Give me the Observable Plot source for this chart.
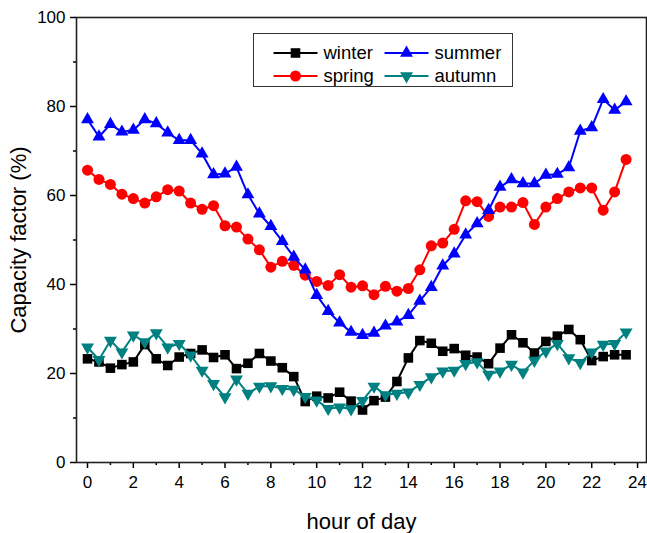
<!DOCTYPE html>
<html>
<head>
<meta charset="utf-8">
<script src="https://cdn.jsdelivr.net/npm/d3@7"></script>
<script src="https://cdn.jsdelivr.net/npm/@observablehq/plot@0.6"></script>
<style>
  body { margin: 0; background: #fff; }
  #chart svg { display: block; }
</style>
</head>
<body>
<div id="chart"></div>
<script>
// Half-hourly capacity factor (%) for each season
const hours = [0, 0.5, 1, 1.5, 2, 2.5, 3, 3.5, 4, 4.5, 5, 5.5, 6, 6.5, 7, 7.5,
  8, 8.5, 9, 9.5, 10, 10.5, 11, 11.5, 12, 12.5, 13, 13.5, 14, 14.5, 15, 15.5,
  16, 16.5, 17, 17.5, 18, 18.5, 19, 19.5, 20, 20.5, 21, 21.5, 22, 22.5, 23, 23.5];

const winter = [23.3, 22.6, 21.2, 22.0, 22.6, 26.5, 23.3, 21.8, 23.7, 24.5, 25.3, 23.6, 24.2, 21.1, 22.3, 24.5,
  22.8, 21.3, 19.3, 13.7, 14.9, 14.5, 15.8, 13.8, 11.8, 13.9, 14.7, 18.2, 23.5, 27.4, 26.8, 25.0,
  25.6, 24.1, 23.7, 22.2, 25.7, 28.7, 26.9, 24.6, 27.2, 28.4, 29.9, 27.6, 22.9, 23.8, 24.2, 24.2];

const spring = [65.7, 63.6, 62.5, 60.3, 59.3, 58.3, 59.7, 61.3, 61.0, 58.3, 56.9, 57.7,
  53.2, 52.9, 50.2, 47.8, 43.9, 45.2, 44.3, 42.1, 40.7, 39.8, 42.2, 39.4,
  39.7, 37.7, 39.6, 38.5, 39.1, 43.3, 48.7, 49.3, 52.4, 58.8, 58.6, 55.3,
  57.4, 57.4, 58.4, 53.5, 57.4, 59.3, 60.8, 61.7, 61.7, 56.7, 60.8, 68.1];

const summer = [77.1, 73.2, 76.0, 74.3, 74.7, 77.1, 76.2, 74.1, 72.4, 72.4, 69.4, 64.7,
  64.9, 66.4, 60.2, 55.9, 53.1, 49.7, 46.2, 43.3, 37.6, 34.0, 31.4, 29.3,
  28.6, 29.1, 30.7, 31.6, 33.1, 36.3, 39.4, 44.2, 46.9, 51.2, 53.7, 56.7,
  61.9, 63.6, 62.7, 62.7, 64.6, 64.8, 66.3, 74.5, 75.3, 81.6, 79.2, 81.1];

const autumn = [25.9, 23.1, 27.4, 24.8, 28.6, 27.1, 29.1, 25.9, 26.7, 24.1, 20.7, 17.7, 14.7, 18.7, 15.5, 17.1,
  17.2, 16.6, 16.4, 14.8, 14.0, 12.1, 12.4, 12.0, 13.9, 17.1, 15.2, 15.5, 15.8, 17.5, 19.2, 20.5,
  20.7, 22.2, 22.6, 19.8, 20.5, 22.0, 20.3, 22.9, 25.0, 26.7, 23.5, 22.4, 24.8, 26.5, 26.7, 29.3];

const seasonNames = ["winter", "spring", "summer", "autumn"];
const xTicks = [0, 2, 4, 6, 8, 10, 12, 14, 16, 18, 20, 22, 24];
const xMinorTicks = [1, 3, 5, 7, 9, 11, 13, 15, 17, 19, 21, 23];
const yTicks = [0, 20, 40, 60, 80, 100];
const yMinorTicks = [10, 30, 50, 70, 90];

// Series styling: colour, marker symbol, marker radius, marker rotation
const styles = {
  winter: {color: "#000000", symbol: "square", r: 5.4, rotate: 0},
  spring: {color: "#ff0000", symbol: "circle", r: 5.5, rotate: 0},
  summer: {color: "#0000ff", symbol: "triangle", r: 4.8, rotate: 0},
  autumn: {color: "#008080", symbol: "triangle", r: 4.8, rotate: 180}
};
const values = {winter, spring, summer, autumn};

const font = "'Liberation Sans', Arial, sans-serif";

const seriesMarks = seasonNames.flatMap((name) => {
  const s = styles[name];
  const rows = hours.map((h, i) => ({hour: h, value: values[name][i]}));
  return [
    Plot.line(rows, {x: "hour", y: "value", stroke: s.color, strokeWidth: 2}),
    Plot.dot(rows, {x: "hour", y: "value", symbol: () => s.symbol, fill: s.color, stroke: "none",
      r: s.r, rotate: s.rotate})
  ];
});

const chart = Plot.plot({
  width: 647,
  height: 533,
  marginLeft: 76,
  marginRight: 1,
  marginTop: 17,
  marginBottom: 71,
  x: {domain: [-0.48, 24.39]},
  y: {domain: [0, 100]},
  symbol: {type: "identity"},
  style: {fontFamily: font, fontSize: "17px", color: "#000", background: "#fff"},
  marks: [
    Plot.axisX(xTicks, {tickSize: 6, tickPadding: 7, strokeWidth: 1.5, label: null, fontSize: 17}),
    Plot.axisX(xMinorTicks, {tickSize: 3, tickFormat: () => "", strokeWidth: 1.5, label: null}),
    Plot.axisY(yTicks, {tickSize: 6, tickPadding: 5, strokeWidth: 1.5, label: null, fontSize: 17}),
    Plot.axisY(yMinorTicks, {tickSize: 3, tickFormat: () => "", strokeWidth: 1.5, label: null}),
    Plot.frame({stroke: "#222", strokeWidth: 1.6}),
    ...seriesMarks,
    Plot.text(["Capacity factor (%)"], {frameAnchor: "left", dx: -58, rotate: -90, textAnchor: "middle",
      lineAnchor: "middle", fontSize: 22, fill: "#000"}),
    Plot.text(["hour of day"], {frameAnchor: "bottom", dy: 59, textAnchor: "middle", lineAnchor: "middle",
      fontSize: 22, fill: "#000"})
  ]
});

document.getElementById("chart").append(chart);

// Legend box drawn inside the plot area
const svg = d3.select(chart);
const legend = svg.append("g").attr("transform", "translate(253.5,33.5)");
legend.append("rect").attr("width", 259).attr("height", 53)
  .attr("fill", "#fff").attr("stroke", "#333").attr("stroke-width", 1);
const symbolTypes = {square: d3.symbolSquare, circle: d3.symbolCircle, triangle: d3.symbolTriangle};
seasonNames.forEach((name, i) => {
  const s = styles[name];
  const col = i < 2 ? 0 : 1;
  const row = i % 2;
  const x0 = col === 0 ? 20 : 131;
  const y0 = row === 0 ? 19.5 : 42.5;
  const g = legend.append("g").attr("transform", `translate(${x0},${y0})`);
  g.append("line").attr("x1", 0).attr("x2", 44).attr("stroke", s.color).attr("stroke-width", 2);
  g.append("path")
    .attr("d", d3.symbol(symbolTypes[s.symbol], Math.PI * s.r * s.r)())
    .attr("transform", `translate(22,0) rotate(${s.rotate})`)
    .attr("fill", s.color);
  g.append("text").attr("x", 50).attr("dy", "0.35em")
    .attr("text-anchor", "start")
    .attr("font-family", font).attr("font-size", 18.5).attr("fill", "#000")
    .text(name);
});
</script>
</body>
</html>
